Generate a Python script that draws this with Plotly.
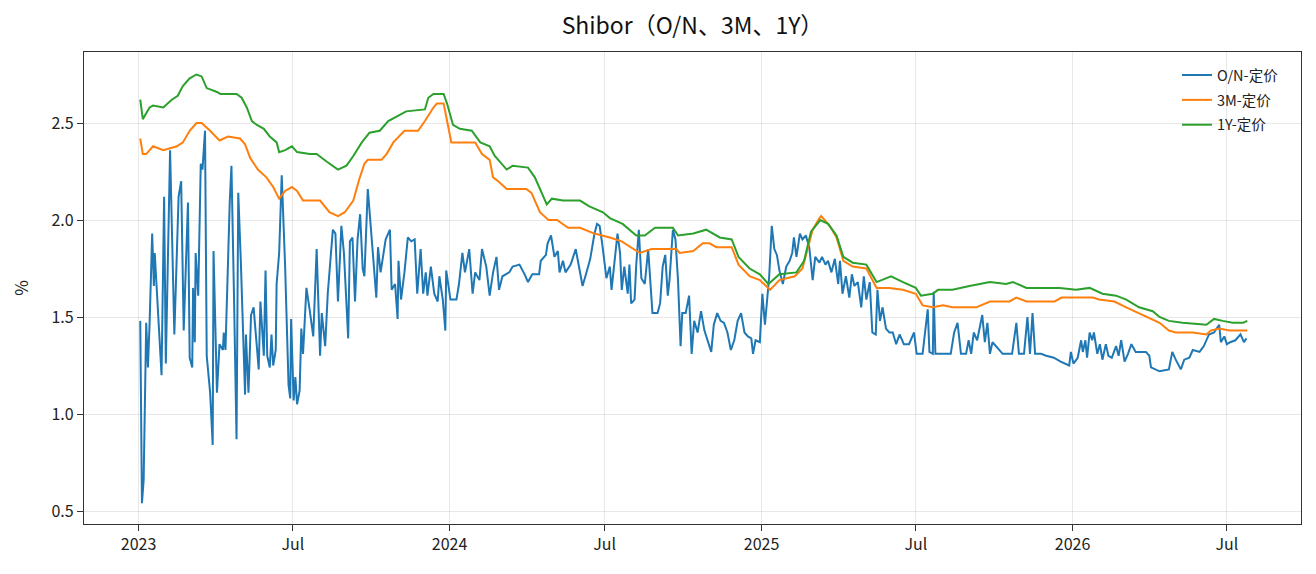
import plotly.graph_objects as go

# ---------------- data ----------------
on_dates = [
"2023-01-03","2023-01-05","2023-01-07","2023-01-10","2023-01-12","2023-01-14","2023-01-17","2023-01-19","2023-01-20","2023-01-28",
"2023-01-31","2023-02-02","2023-02-07","2023-02-12","2023-02-17","2023-02-20","2023-02-23","2023-02-28","2023-03-02","2023-03-05",
"2023-03-06","2023-03-08","2023-03-09","2023-03-12","2023-03-15","2023-03-17","2023-03-20","2023-03-22","2023-03-26","2023-03-29",
"2023-03-30","2023-04-03","2023-04-06","2023-04-10","2023-04-11","2023-04-13","2023-04-18","2023-04-20","2023-04-23","2023-04-26",
"2023-04-28","2023-05-01","2023-05-06","2023-05-07","2023-05-10","2023-05-13","2023-05-16","2023-05-19","2023-05-22","2023-05-24",
"2023-05-28","2023-05-30","2023-06-01","2023-06-04","2023-06-06","2023-06-08","2023-06-11","2023-06-12","2023-06-15","2023-06-18",
"2023-06-22","2023-06-26","2023-06-28","2023-06-29","2023-07-02","2023-07-04","2023-07-06","2023-07-09","2023-07-11","2023-07-13",
"2023-07-17","2023-07-21","2023-07-25","2023-07-29","2023-08-02","2023-08-04","2023-08-08","2023-08-11","2023-08-15","2023-08-17",
"2023-08-20","2023-08-23","2023-08-27","2023-08-30","2023-09-04","2023-09-06","2023-09-09","2023-09-12","2023-09-15","2023-09-18",
"2023-09-21","2023-09-23","2023-09-27","2023-10-02","2023-10-07","2023-10-09","2023-10-12","2023-10-18","2023-10-23","2023-10-25",
"2023-10-29","2023-11-01","2023-11-02","2023-11-05","2023-11-09","2023-11-13","2023-11-17","2023-11-21","2023-11-24","2023-11-28",
"2023-12-01","2023-12-04","2023-12-06","2023-12-10","2023-12-14","2023-12-18","2023-12-20","2023-12-24","2023-12-27","2023-12-28",
"2024-01-02","2024-01-09","2024-01-12","2024-01-16","2024-01-19","2024-01-24","2024-01-28","2024-01-31","2024-02-05","2024-02-08",
"2024-02-13","2024-02-17","2024-02-21","2024-02-25","2024-02-28","2024-03-03","2024-03-11","2024-03-15","2024-03-23","2024-03-29",
"2024-04-02","2024-04-07","2024-04-15","2024-04-17","2024-04-23","2024-04-25","2024-04-29","2024-05-03","2024-05-07","2024-05-09",
"2024-05-13","2024-05-16","2024-05-22","2024-05-28","2024-06-02","2024-06-05","2024-06-09","2024-06-14","2024-06-19","2024-06-22",
"2024-06-25","2024-06-28","2024-07-03","2024-07-07","2024-07-09","2024-07-13","2024-07-16","2024-07-19","2024-07-21","2024-07-24",
"2024-07-28","2024-07-30","2024-08-01","2024-08-05","2024-08-07","2024-08-10","2024-08-13","2024-08-17","2024-08-21","2024-08-26",
"2024-09-01","2024-09-04","2024-09-07","2024-09-10","2024-09-13","2024-09-15","2024-09-19","2024-09-22","2024-09-25","2024-09-28",
"2024-09-30","2024-10-04","2024-10-08","2024-10-11","2024-10-14","2024-10-18","2024-10-22","2024-10-26","2024-10-30","2024-11-03",
"2024-11-06","2024-11-10","2024-11-14","2024-11-18","2024-11-22","2024-11-26","2024-11-30","2024-12-04","2024-12-08","2024-12-12",
"2024-12-16","2024-12-20","2024-12-22","2024-12-25","2024-12-30","2025-01-02","2025-01-05","2025-01-10","2025-01-13","2025-01-16",
"2025-01-19","2025-01-22","2025-01-26","2025-01-30","2025-02-03","2025-02-06","2025-02-08","2025-02-11","2025-02-15","2025-02-18",
"2025-02-22","2025-02-26","2025-03-02","2025-03-05","2025-03-10","2025-03-13","2025-03-17","2025-03-20","2025-03-24","2025-03-28",
"2025-04-01","2025-04-03","2025-04-06","2025-04-10","2025-04-14","2025-04-17","2025-04-20","2025-04-24","2025-04-28","2025-05-01",
"2025-05-04","2025-05-08","2025-05-11","2025-05-15","2025-05-17","2025-05-20","2025-05-23","2025-05-27","2025-05-31","2025-06-04",
"2025-06-08","2025-06-12","2025-06-17","2025-06-23","2025-06-29","2025-07-02","2025-07-09","2025-07-15","2025-07-17","2025-07-21",
"2025-07-22","2025-07-24","2025-08-02","2025-08-11","2025-08-15","2025-08-19","2025-08-23","2025-08-29","2025-09-01","2025-09-04",
"2025-09-07","2025-09-11","2025-09-17","2025-09-20","2025-09-23","2025-09-26","2025-09-29","2025-10-05","2025-10-11","2025-10-22",
"2025-10-27","2025-10-30","2025-11-05","2025-11-09","2025-11-12","2025-11-15","2025-11-18","2025-11-25","2025-12-01","2025-12-10",
"2025-12-18","2025-12-28","2025-12-30","2026-01-02","2026-01-07","2026-01-11","2026-01-13","2026-01-16","2026-01-18","2026-01-21",
"2026-01-24","2026-01-26","2026-01-30","2026-02-02","2026-02-05","2026-02-09","2026-02-12","2026-02-16","2026-02-21","2026-02-24",
"2026-02-27","2026-03-03","2026-03-07","2026-03-11","2026-03-16","2026-03-28","2026-04-01","2026-04-03","2026-04-13","2026-04-24",
"2026-04-28","2026-05-02","2026-05-08","2026-05-12","2026-05-18","2026-05-22","2026-05-30","2026-06-04","2026-06-10","2026-06-16",
"2026-06-22","2026-06-24","2026-06-28","2026-07-01","2026-07-05","2026-07-11","2026-07-17","2026-07-21","2026-07-24",
]
on_values = [
1.48,0.54,0.66,1.47,1.24,1.47,1.93,1.66,1.83,1.20,
2.12,1.26,2.36,1.41,2.12,2.20,1.43,2.09,1.29,1.24,
1.65,1.37,1.83,1.61,2.29,2.26,2.46,1.30,1.11,0.84,
1.84,1.11,1.36,1.33,1.42,1.33,2.09,2.28,1.61,0.87,
2.14,1.79,1.10,1.41,1.11,1.51,1.55,1.39,1.23,1.58,
1.30,1.74,1.30,1.24,1.41,1.25,1.33,1.67,1.83,2.23,
1.76,1.15,1.08,1.49,1.07,1.19,1.05,1.12,1.44,1.31,
1.65,1.53,1.40,1.85,1.30,1.52,1.35,1.62,1.83,1.95,
1.93,1.58,1.97,1.83,1.39,1.89,1.91,1.58,1.90,2.03,
1.75,1.71,2.16,1.90,1.60,1.86,1.73,1.90,1.95,1.64,
1.67,1.49,1.79,1.59,1.73,1.91,1.89,1.90,1.62,1.85,
1.62,1.73,1.61,1.76,1.62,1.58,1.71,1.59,1.43,1.74,
1.59,1.59,1.67,1.83,1.73,1.85,1.62,1.73,1.69,1.85,
1.76,1.61,1.73,1.81,1.64,1.71,1.73,1.76,1.77,1.72,
1.68,1.72,1.72,1.79,1.82,1.88,1.92,1.81,1.84,1.73,
1.79,1.73,1.77,1.85,1.73,1.66,1.72,1.80,1.93,1.98,
1.97,1.88,1.70,1.76,1.64,1.79,1.93,1.83,1.64,1.76,
1.62,1.77,1.57,1.59,1.77,1.95,1.70,1.67,1.85,1.52,
1.52,1.57,1.76,1.82,1.61,1.69,1.95,1.90,1.69,1.35,
1.52,1.52,1.61,1.31,1.48,1.42,1.53,1.43,1.38,1.32,
1.46,1.52,1.48,1.47,1.42,1.33,1.38,1.48,1.52,1.42,
1.40,1.39,1.31,1.38,1.37,1.62,1.46,1.71,1.97,1.85,
1.82,1.74,1.67,1.76,1.79,1.83,1.91,1.81,1.93,1.90,
1.92,1.86,1.69,1.81,1.78,1.81,1.77,1.79,1.73,1.80,
1.67,1.79,1.62,1.71,1.60,1.72,1.66,1.68,1.55,1.71,
1.59,1.68,1.42,1.41,1.64,1.48,1.55,1.44,1.42,1.42,
1.36,1.41,1.36,1.36,1.42,1.31,1.31,1.54,1.32,1.31,
1.63,1.31,1.31,1.31,1.42,1.47,1.31,1.31,1.38,1.31,
1.42,1.38,1.51,1.37,1.47,1.31,1.37,1.34,1.31,1.31,
1.47,1.31,1.31,1.50,1.31,1.52,1.31,1.31,1.30,1.29,
1.27,1.25,1.32,1.26,1.29,1.38,1.32,1.38,1.29,1.42,
1.38,1.42,1.31,1.36,1.28,1.36,1.30,1.29,1.35,1.30,
1.38,1.27,1.31,1.36,1.32,1.32,1.30,1.24,1.22,1.23,
1.32,1.28,1.23,1.28,1.29,1.33,1.32,1.35,1.41,1.42,
1.46,1.37,1.40,1.36,1.37,1.38,1.41,1.37,1.39,
]

m3_dates = [
"2023-01-03","2023-01-06","2023-01-10","2023-01-18","2023-01-30","2023-02-07","2023-02-15","2023-02-22","2023-03-02","2023-03-10",
"2023-03-16","2023-03-26","2023-04-06","2023-04-16","2023-04-30","2023-05-06","2023-05-12","2023-05-21","2023-05-31","2023-06-08",
"2023-06-15","2023-06-22","2023-06-30","2023-07-06","2023-07-13","2023-07-21","2023-08-02","2023-08-13","2023-08-23","2023-08-31",
"2023-09-10","2023-09-17","2023-09-23","2023-09-27","2023-10-13","2023-10-19","2023-10-27","2023-11-09","2023-11-25","2023-12-03",
"2023-12-13","2023-12-17","2023-12-25","2024-01-03","2024-01-09","2024-01-27","2024-01-31","2024-02-08","2024-02-17","2024-02-21",
"2024-02-27","2024-03-08","2024-03-31","2024-04-06","2024-04-16","2024-04-26","2024-05-06","2024-05-19","2024-06-02","2024-06-19",
"2024-07-07","2024-07-21","2024-08-07","2024-08-11","2024-08-25","2024-09-23","2024-09-27","2024-10-13","2024-10-24","2024-11-01",
"2024-11-09","2024-11-27","2024-12-05","2024-12-18","2024-12-30","2025-01-11","2025-01-22","2025-02-09","2025-02-18","2025-02-24",
"2025-03-02","2025-03-10","2025-03-12","2025-03-22","2025-03-30","2025-04-07","2025-04-18","2025-05-04","2025-05-16","2025-05-31",
"2025-06-16","2025-07-01","2025-07-09","2025-07-21","2025-08-02","2025-08-13","2025-09-10","2025-09-26","2025-10-19","2025-10-27",
"2025-11-08","2025-12-11","2025-12-19","2026-01-05","2026-01-13","2026-01-25","2026-02-01","2026-02-19","2026-03-05","2026-03-20",
"2026-04-05","2026-04-13","2026-04-24","2026-05-02","2026-05-22","2026-06-07","2026-06-12","2026-06-22","2026-07-04","2026-07-25",
]
m3_values = [
2.42,2.34,2.34,2.38,2.36,2.37,2.38,2.40,2.46,2.50,
2.50,2.46,2.41,2.43,2.42,2.39,2.32,2.26,2.22,2.17,
2.11,2.15,2.17,2.15,2.10,2.10,2.10,2.04,2.02,2.04,
2.10,2.21,2.29,2.31,2.31,2.34,2.40,2.46,2.46,2.51,
2.58,2.60,2.60,2.40,2.40,2.40,2.40,2.34,2.31,2.22,
2.20,2.16,2.16,2.14,2.04,2.00,2.00,1.96,1.96,1.93,
1.91,1.89,1.84,1.83,1.85,1.85,1.83,1.84,1.88,1.88,
1.86,1.86,1.77,1.71,1.69,1.64,1.69,1.71,1.75,1.85,
1.95,2.01,2.02,1.97,1.91,1.79,1.76,1.75,1.65,1.65,
1.64,1.62,1.56,1.55,1.56,1.55,1.55,1.58,1.58,1.60,
1.58,1.58,1.60,1.60,1.60,1.60,1.59,1.58,1.55,1.52,
1.49,1.47,1.43,1.42,1.42,1.41,1.43,1.44,1.43,1.43,
]

y1_dates = [
"2023-01-03","2023-01-06","2023-01-14","2023-01-18","2023-01-30","2023-02-09","2023-02-16","2023-02-22","2023-03-02","2023-03-10",
"2023-03-16","2023-03-22","2023-04-03","2023-04-07","2023-04-26","2023-05-02","2023-05-08","2023-05-14","2023-05-20","2023-05-28",
"2023-06-04","2023-06-12","2023-06-15","2023-06-22","2023-06-30","2023-07-06","2023-07-21","2023-07-29","2023-08-10","2023-08-23",
"2023-09-02","2023-09-10","2023-09-20","2023-09-29","2023-10-11","2023-10-21","2023-11-03","2023-11-11","2023-12-03","2023-12-07",
"2023-12-13","2023-12-25","2023-12-29","2024-01-05","2024-01-13","2024-01-27","2024-02-06","2024-02-17","2024-02-23","2024-03-08",
"2024-03-15","2024-04-02","2024-04-10","2024-04-24","2024-04-30","2024-05-13","2024-06-02","2024-06-13","2024-06-29","2024-07-07",
"2024-07-22","2024-08-07","2024-08-17","2024-08-23","2024-08-29","2024-09-19","2024-09-25","2024-10-13","2024-10-28","2024-11-13",
"2024-11-27","2024-12-05","2024-12-18","2024-12-30","2025-01-09","2025-01-22","2025-02-11","2025-02-20","2025-02-28","2025-03-11",
"2025-03-20","2025-03-30","2025-04-07","2025-04-18","2025-05-04","2025-05-16","2025-06-02","2025-06-16","2025-07-01","2025-07-07",
"2025-07-21","2025-07-27","2025-08-13","2025-09-02","2025-09-26","2025-10-15","2025-10-23","2025-11-08","2025-12-17","2026-01-05",
"2026-01-21","2026-02-05","2026-02-21","2026-03-05","2026-03-20","2026-04-05","2026-04-13","2026-04-24","2026-05-10","2026-06-07",
"2026-06-16","2026-06-26","2026-07-08","2026-07-20","2026-07-25",
]
y1_values = [
2.62,2.52,2.58,2.59,2.58,2.62,2.64,2.69,2.73,2.75,
2.74,2.68,2.66,2.65,2.65,2.63,2.58,2.51,2.49,2.47,
2.43,2.40,2.35,2.36,2.38,2.35,2.34,2.34,2.30,2.26,
2.28,2.33,2.40,2.45,2.46,2.51,2.54,2.56,2.57,2.63,
2.65,2.65,2.60,2.49,2.47,2.46,2.40,2.38,2.33,2.26,
2.28,2.27,2.22,2.08,2.11,2.10,2.10,2.07,2.04,2.01,
1.98,1.92,1.92,1.94,1.96,1.96,1.92,1.93,1.95,1.91,
1.90,1.81,1.75,1.72,1.67,1.72,1.73,1.79,1.94,2.00,
1.98,1.92,1.81,1.78,1.77,1.68,1.71,1.68,1.65,1.61,
1.62,1.64,1.64,1.66,1.68,1.67,1.68,1.65,1.65,1.64,
1.65,1.62,1.61,1.59,1.55,1.53,1.50,1.48,1.47,1.46,
1.49,1.48,1.47,1.47,1.48,
]

series_names = ["O/N-定价", "3M-定价", "1Y-定价"]
series_colors = ["#1f77b4", "#ff7f0e", "#2ca02c"]

tick_dates = ["2023-01-01", "2023-07-01", "2024-01-01", "2024-07-01",
              "2025-01-01", "2025-07-01", "2026-01-01", "2026-07-01"]
tick_labels = ["2023", "Jul", "2024", "Jul", "2025", "Jul", "2026", "Jul"]
y_ticks = [0.5, 1.0, 1.5, 2.0, 2.5]

FONT = "Noto Sans CJK SC, Microsoft YaHei, DejaVu Sans, sans-serif"

fig = go.Figure()
for name, color, xs, ys in zip(series_names, series_colors,
                               [on_dates, m3_dates, y1_dates],
                               [on_values, m3_values, y1_values]):
    fig.add_trace(go.Scatter(x=xs, y=ys, mode="lines", name=name,
                             legendgroup=name,
                             line=dict(color=color, width=2)))

axis_common = dict(
    showline=True, linecolor="#333333", linewidth=1.3, mirror=True,
    ticks="outside", ticklen=6, tickwidth=1.2, tickcolor="#333333",
    showgrid=True, gridcolor="rgba(0,0,0,0.09)", gridwidth=1,
    zeroline=False, tickfont=dict(family=FONT, size=16, color="#222222"),
)

fig.update_layout(
    width=1316, height=574,
    margin=dict(l=84, r=15, t=52, b=50),
    paper_bgcolor="white", plot_bgcolor="white",
    font=dict(family=FONT, color="#222222"),
    title=dict(text="Shibor（O/N、3M、1Y）", x=0.5, xref="paper", xanchor="center",
               y=1 - 26 / 574, yref="container", yanchor="middle",
               font=dict(family=FONT, size=23, color="#111111")),
    xaxis=dict(axis_common, type="date", range=["2022-10-29", "2026-09-26"],
               tickvals=tick_dates, ticktext=tick_labels),
    yaxis=dict(axis_common, range=[0.433, 2.866], tickvals=y_ticks,
               ticktext=[f"{v:.1f}" for v in y_ticks],
               title=dict(text="%", standoff=18, font=dict(family=FONT, size=17))),
    legend=dict(x=0.986, xanchor="right", y=0.985, yanchor="top",
                bgcolor="rgba(255,255,255,0)", borderwidth=0,
                font=dict(family=FONT, size=14.5, color="#222222"),
                itemwidth=30, tracegroupgap=3),
    showlegend=True,
)

fig.write_html("out.html")
